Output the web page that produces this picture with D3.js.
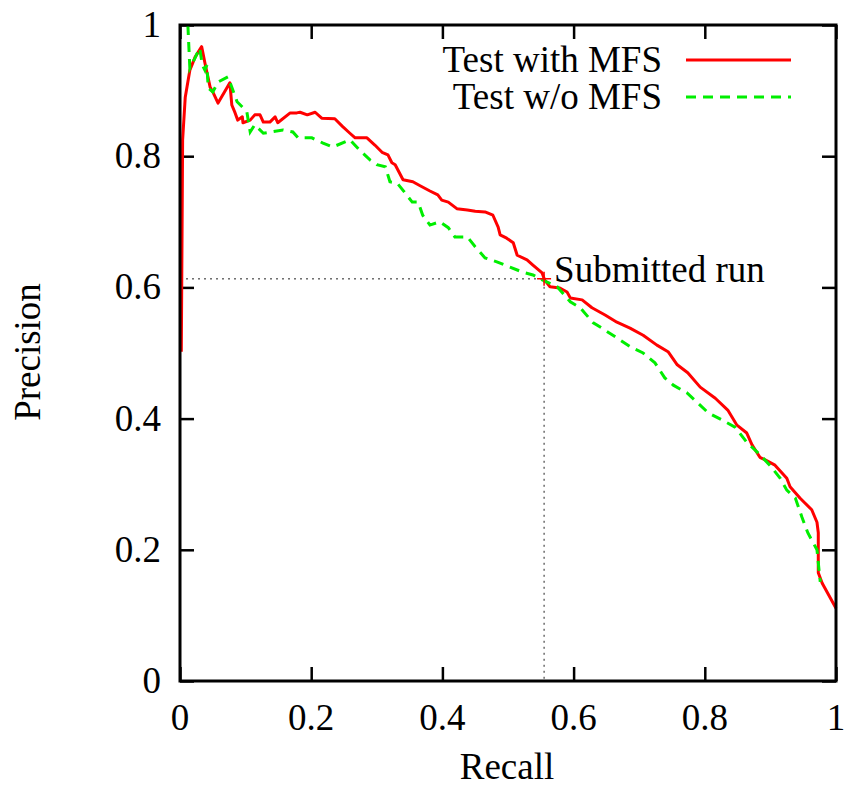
<!DOCTYPE html>
<html lang="en">
	<head>
		<meta charset="utf-8">
		<title>Precision / Recall</title>
		<script type="text/javascript" src="https://cdn.jsdelivr.net/npm/d3@7/dist/d3.min.js"></script>
		<style type="text/css">
			body { margin: 0; background: #fff; }
			text { font-family: "Liberation Serif", "DejaVu Serif", serif; fill: #000; }
		</style>
	</head>
	<body>
		<script type="text/javascript">

			// recall / precision points
			var recallWith = [0.002,0.004,0.008,0.015,0.023,0.033,0.038,0.046,0.050,0.058,0.076,0.079,0.084,0.088,0.095,0.096,0.107,0.114,0.122,0.127,0.137,0.145,0.149,0.168,0.178,0.183,0.194,0.206,0.216,0.236,0.248,0.259,0.267,0.285,0.297,0.308,0.317,0.323,0.328,0.340,0.355,0.366,0.381,0.393,0.399,0.409,0.422,0.438,0.450,0.465,0.477,0.485,0.488,0.498,0.508,0.514,0.529,0.538,0.552,0.556,0.564,0.579,0.590,0.595,0.613,0.628,0.648,0.666,0.686,0.706,0.727,0.744,0.758,0.774,0.793,0.816,0.835,0.849,0.864,0.872,0.884,0.892,0.907,0.925,0.930,0.945,0.963,0.971,0.973,0.973,0.979,1.000];
			var precisionWith = [0.502,0.825,0.890,0.931,0.951,0.967,0.942,0.905,0.898,0.881,0.912,0.878,0.866,0.855,0.860,0.851,0.855,0.863,0.863,0.852,0.852,0.860,0.851,0.866,0.866,0.867,0.863,0.867,0.858,0.857,0.845,0.835,0.828,0.828,0.817,0.806,0.802,0.790,0.787,0.764,0.761,0.755,0.747,0.741,0.733,0.730,0.720,0.718,0.716,0.715,0.710,0.692,0.680,0.675,0.668,0.649,0.642,0.634,0.622,0.611,0.601,0.599,0.593,0.584,0.581,0.569,0.558,0.547,0.538,0.527,0.512,0.502,0.482,0.470,0.448,0.431,0.413,0.390,0.378,0.360,0.341,0.337,0.329,0.309,0.296,0.279,0.261,0.242,0.226,0.165,0.149,0.111];

			var recallWithout = [0.012,0.015,0.023,0.030,0.034,0.038,0.041,0.043,0.050,0.058,0.073,0.079,0.087,0.095,0.102,0.107,0.114,0.127,0.157,0.172,0.180,0.201,0.218,0.233,0.259,0.274,0.290,0.300,0.313,0.320,0.331,0.340,0.354,0.363,0.370,0.381,0.396,0.409,0.419,0.438,0.450,0.465,0.483,0.503,0.523,0.538,0.553,0.575,0.595,0.610,0.630,0.643,0.666,0.689,0.706,0.724,0.739,0.752,0.773,0.788,0.805,0.826,0.846,0.864,0.884,0.899,0.915,0.925,0.938,0.948,0.957,0.971,0.976];
			var precisionWithout = [1.000,0.934,0.950,0.965,0.939,0.931,0.939,0.904,0.898,0.913,0.921,0.905,0.883,0.875,0.867,0.837,0.848,0.835,0.840,0.837,0.828,0.828,0.820,0.814,0.825,0.809,0.794,0.787,0.784,0.761,0.759,0.748,0.730,0.730,0.710,0.695,0.700,0.691,0.677,0.677,0.662,0.645,0.639,0.631,0.623,0.619,0.611,0.601,0.578,0.569,0.546,0.538,0.523,0.508,0.500,0.485,0.462,0.451,0.439,0.425,0.409,0.398,0.387,0.364,0.345,0.329,0.309,0.291,0.279,0.250,0.226,0.200,0.151];

			var submitted = {recall: 0.555, precision: 0.613};
			var tickValues = [0, 0.2, 0.4, 0.6, 0.8, 1];
			var seriesNames = ["Test with MFS", "Test w/o MFS"];
			var seriesColors = ["#ff0000", "#00ee00"];

			var w = 847;
			var h = 789;
			var plotLeft = 180, plotRight = 836, plotTop = 25, plotBottom = 681;
			var fontSize = "37px";

			var xScale = d3.scaleLinear().domain([0, 1]).range([plotLeft, plotRight]);
			var yScale = d3.scaleLinear().domain([0, 1]).range([plotBottom, plotTop]);

			var svg = d3.select("body")
						.append("svg")
						.attr("width", w)
						.attr("height", h);

			var fmt = function(d) { return d === 0 || d === 1 ? d3.format("d")(d) : d3.format(".1f")(d); };

			// inward ticks on all four sides
			svg.append("g")
			   .attr("transform", "translate(0," + plotBottom + ")")
			   .call(d3.axisTop(xScale).tickValues(tickValues).tickSize(14).tickFormat(""));
			svg.append("g")
			   .attr("transform", "translate(0," + plotTop + ")")
			   .call(d3.axisBottom(xScale).tickValues(tickValues).tickSize(14).tickFormat(""));
			svg.append("g")
			   .attr("transform", "translate(" + plotLeft + ",0)")
			   .call(d3.axisRight(yScale).tickValues(tickValues).tickSize(14).tickFormat(""));
			svg.append("g")
			   .attr("transform", "translate(" + plotRight + ",0)")
			   .call(d3.axisLeft(yScale).tickValues(tickValues).tickSize(14).tickFormat(""));
			svg.selectAll(".domain").remove();
			svg.selectAll(".tick text").remove();
			svg.selectAll(".tick line").attr("stroke", "#000").attr("stroke-width", 2.5);

			// tick labels
			svg.selectAll("text.xlab")
			   .data(tickValues)
			   .enter()
			   .append("text")
			   .attr("class", "xlab")
			   .attr("x", function(d) { return xScale(d); })
			   .attr("y", 730)
			   .attr("text-anchor", "middle")
			   .attr("font-size", fontSize)
			   .text(fmt);
			svg.selectAll("text.ylab")
			   .data(tickValues)
			   .enter()
			   .append("text")
			   .attr("class", "ylab")
			   .attr("x", 161)
			   .attr("y", function(d) { return yScale(d) + 12; })
			   .attr("text-anchor", "end")
			   .attr("font-size", fontSize)
			   .text(fmt);

			// axis titles
			svg.append("text")
			   .attr("x", 507)
			   .attr("y", 779)
			   .attr("text-anchor", "middle")
			   .attr("font-size", fontSize)
			   .text("Recall");
			svg.append("text")
			   .attr("transform", "translate(40,352) rotate(-90)")
			   .attr("text-anchor", "middle")
			   .attr("font-size", fontSize)
			   .text("Precision");

			// dotted guides to the submitted run
			svg.append("path")
			   .attr("d", "M" + plotLeft + "," + yScale(submitted.precision) + "H" + xScale(submitted.recall) + "V" + plotBottom)
			   .attr("fill", "none")
			   .attr("stroke", "#222")
			   .attr("stroke-width", 1)
			   .attr("stroke-dasharray", "2,4");

			var line = d3.line()
						 .x(function(d) { return xScale(d[0]); })
						 .y(function(d) { return yScale(d[1]); });

			var withData = d3.zip(recallWith, precisionWith);
			var withoutData = d3.zip(recallWithout, precisionWithout);

			svg.append("path")
			   .datum(withData)
			   .attr("d", line)
			   .attr("fill", "none")
			   .attr("stroke", seriesColors[0])
			   .attr("stroke-width", 3)
			   .attr("stroke-linejoin", "round");

			svg.append("path")
			   .datum(withoutData)
			   .attr("d", line)
			   .attr("fill", "none")
			   .attr("stroke", seriesColors[1])
			   .attr("stroke-width", 3)
			   .attr("stroke-dasharray", "10,7");

			// submitted run marker
			var px = xScale(submitted.recall), py = yScale(submitted.precision);
			svg.append("path")
			   .attr("d", "M" + (px - 7) + "," + py + "H" + (px + 7) + "M" + px + "," + (py - 7) + "V" + (py + 7))
			   .attr("stroke", seriesColors[0])
			   .attr("stroke-width", 1.5);
			svg.append("text")
			   .attr("x", px + 10)
			   .attr("y", py + 3)
			   .attr("font-size", fontSize)
			   .text("Submitted run");

			// legend
			var legend = svg.selectAll("g.legend")
							.data(seriesNames)
							.enter()
							.append("g")
							.attr("class", "legend")
							.attr("transform", function(d, i) { return "translate(0," + (60 + i * 37) + ")"; });
			legend.append("text")
				  .attr("x", 662)
				  .attr("y", 12)
				  .attr("text-anchor", "end")
				  .attr("font-size", fontSize)
				  .text(function(d) { return d; });
			legend.append("line")
				  .attr("x1", 686)
				  .attr("x2", 791)
				  .attr("stroke", function(d, i) { return seriesColors[i]; })
				  .attr("stroke-width", 3)
				  .attr("stroke-dasharray", function(d, i) { return i ? "10,7" : null; });

			// frame
			svg.append("rect")
			   .attr("x", plotLeft)
			   .attr("y", plotTop)
			   .attr("width", plotRight - plotLeft)
			   .attr("height", plotBottom - plotTop)
			   .attr("fill", "none")
			   .attr("stroke", "#000")
			   .attr("stroke-width", 3);

		</script>
	</body>
</html>
